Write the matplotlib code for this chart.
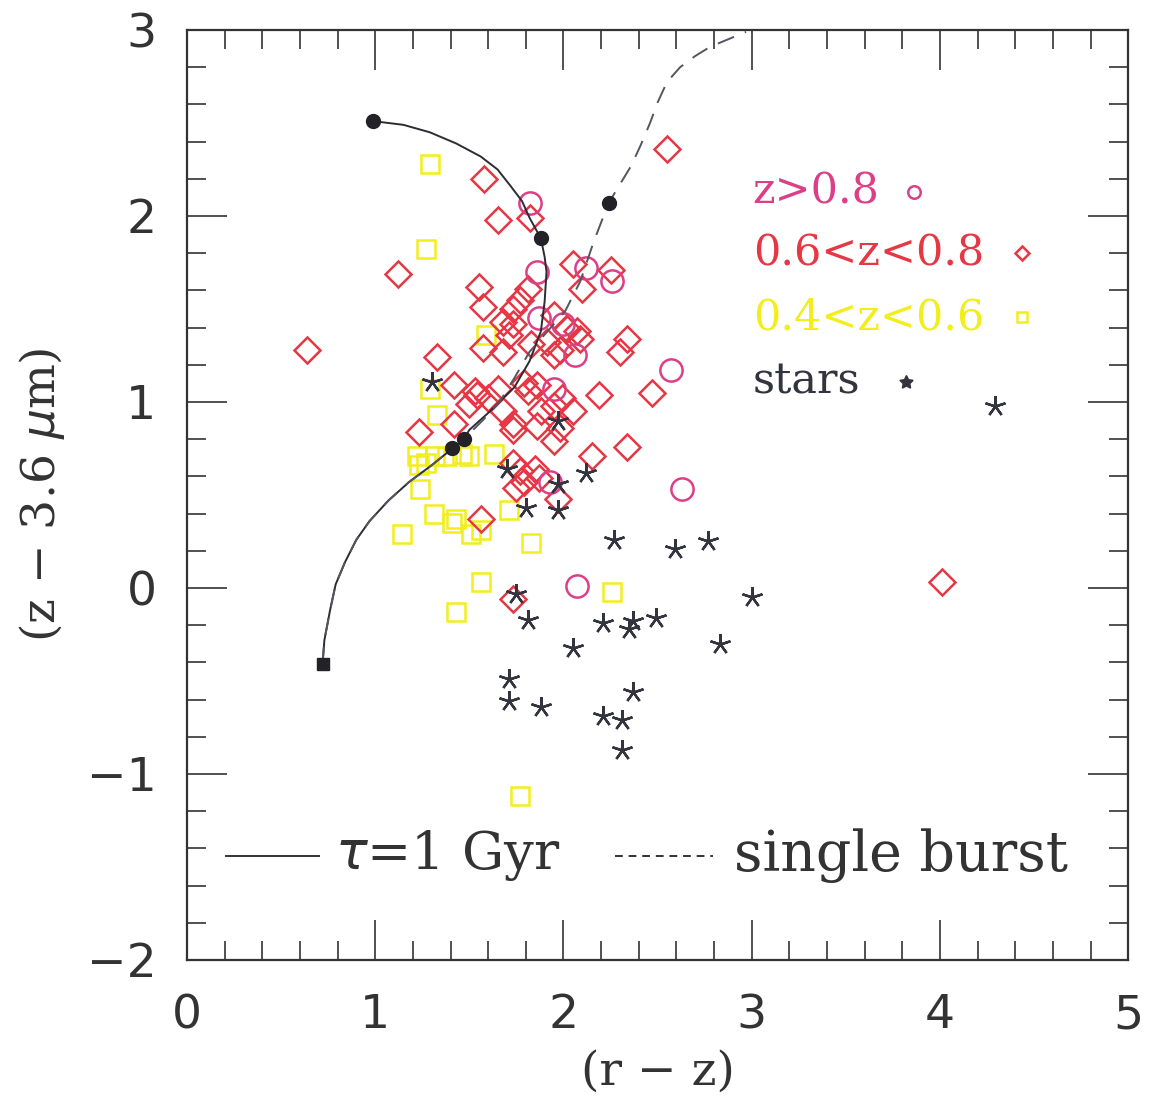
import numpy as np
import matplotlib
matplotlib.use("Agg")
import matplotlib.pyplot as plt
from matplotlib.ticker import MultipleLocator

# z > 0.8 (circles)
hiz_x = [1.82, 1.86, 2.12, 2.26, 1.87, 2.00, 2.06, 2.57, 1.95, 1.93, 2.63, 2.07]
hiz_y = [2.07, 1.70, 1.72, 1.65, 1.45, 1.42, 1.25, 1.17, 1.07, 0.57, 0.53, 0.01]

# 0.6 < z < 0.8 (diamonds)
midz_x = [0.64, 2.55, 1.58, 1.65, 1.82, 1.12, 2.05, 2.25, 2.10, 1.55, 1.57, 1.81,
          1.77, 1.73, 1.68, 1.73, 1.71, 1.95, 2.02, 2.07, 2.09, 2.34, 2.30, 1.57,
          1.68, 1.83, 1.91, 1.95, 1.98, 1.33, 1.42, 1.53, 1.65, 1.79, 1.86, 2.19,
          2.47, 1.54, 1.50, 1.60, 1.23, 1.42, 1.68, 1.73, 1.73, 1.86, 1.88, 1.95,
          1.99, 2.05, 1.98, 1.95, 1.81, 2.34, 2.15, 1.73, 1.77, 1.85, 1.75, 1.79,
          1.87, 1.97, 1.56, 1.73, 4.01]
midz_y = [1.28, 2.36, 2.20, 1.98, 1.99, 1.69, 1.74, 1.71, 1.61, 1.62, 1.51, 1.61,
          1.55, 1.50, 1.43, 1.42, 1.36, 1.47, 1.39, 1.38, 1.34, 1.34, 1.27, 1.29,
          1.27, 1.31, 1.32, 1.25, 1.28, 1.24, 1.09, 1.06, 1.07, 1.10, 1.09, 1.04,
          1.05, 1.04, 0.99, 1.02, 0.84, 0.88, 0.95, 0.88, 0.85, 0.87, 0.95, 0.98,
          1.02, 0.95, 0.86, 0.79, 1.06, 0.76, 0.71, 0.67, 0.63, 0.64, 0.54, 0.57,
          0.59, 0.48, 0.37, -0.06, 0.03]

# 0.4 < z < 0.6 (squares)
lowz_x = [1.29, 1.27, 1.59, 1.29, 1.33, 1.22, 1.23, 1.32, 1.38, 1.50, 1.63, 1.24,
          1.31, 1.41, 1.43, 1.51, 1.56, 1.14, 1.71, 1.83, 1.56, 2.26, 1.43, 1.77,
          1.27, 1.46]
lowz_y = [2.28, 1.82, 1.36, 1.07, 0.93, 0.71, 0.66, 0.71, 0.71, 0.71, 0.72, 0.53,
          0.40, 0.35, 0.37, 0.29, 0.31, 0.29, 0.42, 0.24, 0.03, -0.02, -0.13, -1.12,
          0.67, 0.72]

# stars
star_x = [1.75, 1.81, 2.21, 2.37, 2.35, 2.49, 2.05, 3.00, 2.83, 1.71, 1.71, 1.88,
          2.37, 2.21, 2.31, 2.31, 1.80, 1.97, 2.12, 2.27, 2.59, 1.70, 1.97, 1.97,
          2.77, 4.29, 1.30]
star_y = [-0.03, -0.17, -0.19, -0.18, -0.22, -0.16, -0.32, -0.05, -0.30, -0.49, -0.61, -0.64,
          -0.56, -0.69, -0.71, -0.87, 0.43, 0.42, 0.62, 0.26, 0.21, 0.64, 0.56, 0.90,
          0.25, 0.98, 1.11]

# model tracks
tau_x = [0.99, 1.15, 1.29, 1.43, 1.56, 1.65, 1.72, 1.78, 1.82, 1.88, 1.90, 1.91,
         1.90, 1.88, 1.82, 1.74, 1.61, 1.50, 1.47, 1.41, 1.30, 1.18, 1.07, 0.97,
         0.90, 0.84, 0.79, 0.76, 0.73, 0.72]
tau_y = [2.51, 2.49, 2.45, 2.39, 2.32, 2.25, 2.16, 2.08, 1.99, 1.88, 1.78, 1.70,
         1.54, 1.38, 1.22, 1.08, 0.95, 0.85, 0.80, 0.75, 0.66, 0.57, 0.47, 0.36,
         0.26, 0.14, 0.02, -0.12, -0.28, -0.41]
burst_x = [0.72, 0.73, 0.76, 0.79, 0.84, 0.90, 0.97, 1.07, 1.18, 1.30, 1.41, 1.47,
           1.57, 1.66, 1.74, 1.82, 1.95, 2.01, 2.05, 2.09, 2.16, 2.24, 2.30, 2.36,
           2.41, 2.46, 2.50, 2.55, 2.62, 2.70, 2.78, 2.97]
burst_y = [-0.41, -0.28, -0.12, 0.02, 0.14, 0.26, 0.36, 0.47, 0.57, 0.66, 0.75, 0.80,
           0.90, 1.00, 1.13, 1.27, 1.42, 1.49, 1.57, 1.65, 1.86, 2.07, 2.17, 2.27,
           2.38, 2.50, 2.61, 2.72, 2.80, 2.86, 2.91, 2.99]
dot_x = [0.99, 1.88, 1.47, 1.41, 2.24]
dot_y = [2.51, 1.88, 0.80, 0.75, 2.07]
end_x, end_y = [0.72], [-0.41]

pink = "#dc3f86"
red = "#e63744"
yellow = "#f2ee1c"
dark = "#34343e"

fig = plt.figure(figsize=(11.5, 11.19), dpi=100)
ax = fig.add_axes([0.1626, 0.1421, 0.8184, 0.8311])

ax.plot(lowz_x, lowz_y, ls="none", marker="s", ms=13, mfc="none", mec=yellow, mew=1.8)
ax.plot(midz_x, midz_y, ls="none", marker="D", ms=13, mfc="none", mec=red, mew=1.8)
ax.plot(hiz_x, hiz_y, ls="none", marker="o", ms=16, mfc="none", mec=pink, mew=1.8)
ax.plot(star_x, star_y, ls="none", marker=(5, 2, 0), ms=15, mec=dark, mew=1.7)

ax.plot(tau_x, tau_y, color="#2c2c34", lw=1.4)
ax.plot(burst_x, burst_y, color="#555560", lw=1.4, ls=(0, (9, 6)))
ax.plot(dot_x, dot_y, ls="none", marker="o", ms=10, color="#222228")
ax.plot(end_x, end_y, ls="none", marker="s", ms=8, color="#222228")

ax.set_xlim(0, 5)
ax.set_ylim(-2, 3)
ax.xaxis.set_major_locator(MultipleLocator(1))
ax.xaxis.set_minor_locator(MultipleLocator(0.2))
ax.yaxis.set_major_locator(MultipleLocator(1))
ax.yaxis.set_minor_locator(MultipleLocator(0.2))
ax.tick_params(which="both", direction="in", top=True, right=True, width=1.2, color="#333")
ax.tick_params(which="major", length=29, labelsize=34, labelcolor="#333", pad=22)
ax.tick_params(which="minor", length=14)
ax.tick_params(axis="x", which="major", pad=24)
for s in ax.spines.values():
    s.set_linewidth(1.6)
    s.set_color("#333")

ax.set_xlabel("(r \u2212 z)", fontsize=34, family="DejaVu Serif", color="#333", labelpad=8)
ax.set_ylabel("(z \u2212 3.6 $\\mu$m)", fontsize=34, family="DejaVu Serif", color="#333", labelpad=14)

# key, top right
key_font = dict(fontsize=31, family="DejaVu Serif", transform=ax.transAxes, va="center")
ax.text(0.601, 0.826, "z>0.8", color=pink, **key_font)
ax.text(0.601, 0.760, "0.6<z<0.8", color=red, **key_font)
ax.text(0.601, 0.691, "0.4<z<0.6", color=yellow, **key_font)
ax.text(0.601, 0.622, "stars", color=dark, **key_font)
ax.plot([0.772], [0.826], transform=ax.transAxes, marker="o", ms=9, mfc="none", mec=pink, mew=1.8)
ax.plot([0.887], [0.760], transform=ax.transAxes, marker="D", ms=7, mfc="none", mec=red, mew=1.8)
ax.plot([0.887], [0.691], transform=ax.transAxes, marker="s", ms=7, mfc="none", mec=yellow, mew=1.8)
ax.plot([0.764], [0.622], transform=ax.transAxes, marker=(5, 1, 0), ms=10, color=dark)

# line key, bottom
ax.plot([0.041, 0.140], [0.112, 0.112], transform=ax.transAxes, color="#333", lw=1.4)
ax.plot([0.455, 0.559], [0.112, 0.112], transform=ax.transAxes, color="#333", lw=1.4, ls=(0, (4, 3)))
ax.text(0.157, 0.112, "$\\tau$=1 Gyr", transform=ax.transAxes, fontsize=38,
        family="DejaVu Serif", color="#333", va="center")
ax.text(0.581, 0.112, "single burst", transform=ax.transAxes, fontsize=40,
        family="DejaVu Serif", color="#333", va="center")

plt.savefig("out.png", dpi=100)
